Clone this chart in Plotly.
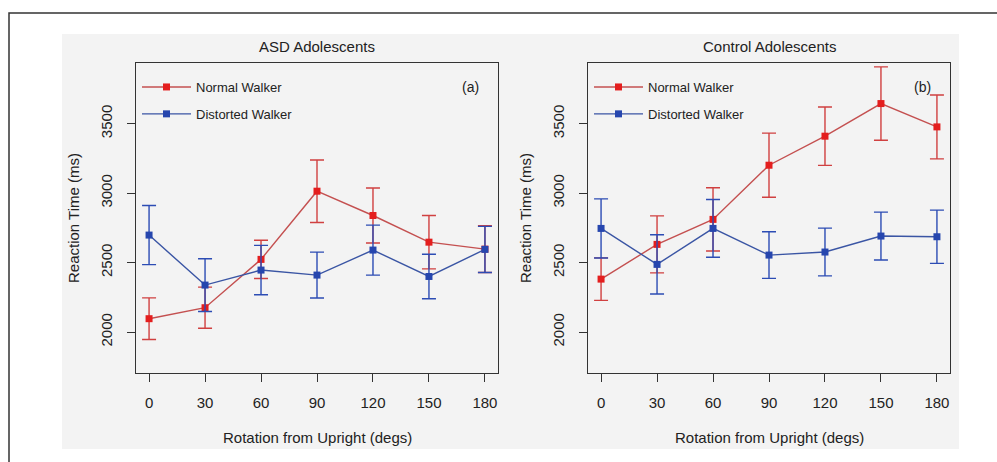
import plotly.graph_objects as go

angles = [0, 30, 60, 90, 120, 150, 180]

asd_normal = [2096, 2175, 2523, 3014, 2839, 2647, 2597]
asd_normal_err = [150, 148, 138, 225, 198, 192, 168]
asd_distorted = [2698, 2338, 2446, 2410, 2590, 2400, 2595]
asd_distorted_err = [213, 190, 178, 165, 180, 160, 166]

ctl_normal = [2381, 2631, 2811, 3201, 3410, 3645, 3477]
ctl_normal_err = [153, 205, 228, 231, 210, 264, 230]
ctl_distorted = [2746, 2487, 2746, 2554, 2576, 2691, 2686]
ctl_distorted_err = [213, 213, 208, 168, 172, 172, 192]

series_names = ["Normal Walker", "Distorted Walker"]
panel_titles = ["ASD Adolescents", "Control Adolescents"]
panel_tags = ["(a)", "(b)"]
x_ticks = [0, 30, 60, 90, 120, 150, 180]
y_ticks = [2000, 2500, 3000, 3500]
x_title = "Rotation from Upright (degs)"
y_title = "Reaction Time (ms)"

RED_LINE = "#C45050"
RED_MARK = "#E41E1E"
RED_ERR = "#D04040"
BLUE_LINE = "#3A55A4"
BLUE_MARK = "#2646AE"
BLUE_ERR = "#2C4CB4"
FONT = "Liberation Sans, Arial, sans-serif"
TXT = "#222222"
BG = "#F3F3F3"

W, H = 997, 462
def px(x):
    return x / W
def py(y):
    return 1 - y / H

fig = go.Figure()

panels = [
    (asd_normal, asd_normal_err, asd_distorted, asd_distorted_err, "x", "y", "legend"),
    (ctl_normal, ctl_normal_err, ctl_distorted, ctl_distorted_err, "x2", "y2", "legend2"),
]
for i, (nv, ne, dv, de, xa, ya, lg) in enumerate(panels):
    for name, vals, errs, lc, mc, ec, grp in [
        (series_names[0], nv, ne, RED_LINE, RED_MARK, RED_ERR, "n"),
        (series_names[1], dv, de, BLUE_LINE, BLUE_MARK, BLUE_ERR, "d"),
    ]:
        fig.add_trace(go.Scatter(
            x=angles, y=vals, name=name, mode="lines+markers",
            line=dict(color=lc, width=1.4),
            marker=dict(symbol="square", size=7, color=mc),
            error_y=dict(type="data", array=errs, visible=True,
                         color=ec, thickness=1.4, width=7),
            xaxis=xa, yaxis=ya, legend=lg, legendgroup=grp + str(i),
        ))

xdom = [[px(136), px(498)], [px(588), px(950)]]
ydom = [py(373), py(63)]

axis_common = dict(
    showgrid=False, zeroline=False, showline=True, mirror=True,
    linecolor="#333333", linewidth=1.3, ticks="outside", ticklen=8,
    tickwidth=1.3, tickcolor="#333333",
    tickfont=dict(family=FONT, size=15, color=TXT),
)
layout = dict(
    width=W, height=H, margin=dict(l=0, r=0, t=0, b=0),
    paper_bgcolor="white", plot_bgcolor=BG,
    font=dict(family=FONT, color=TXT),
    showlegend=True,
)
for i in range(2):
    sfx = "" if i == 0 else "2"
    layout["xaxis" + sfx] = dict(axis_common, domain=xdom[i], range=[-7, 187],
                                 tickvals=x_ticks, anchor="y" + sfx,
                                 ticklabelstandoff=8)
    layout["yaxis" + sfx] = dict(axis_common, domain=ydom, range=[1705, 3937],
                                 tickvals=y_ticks, anchor="x" + sfx,
                                 tickangle=-90, ticklabelstandoff=9)
    leg = dict(x=px(137 if i == 0 else 589), y=py(72), xanchor="left", yanchor="top",
               bgcolor="rgba(0,0,0,0)", borderwidth=0, tracegroupgap=7,
               itemwidth=49, font=dict(family=FONT, size=13, color=TXT))
    layout["legend" if i == 0 else "legend2"] = leg
fig.update_layout(**layout)

shapes = [
    dict(type="rect", xref="paper", yref="paper", x0=px(62), x1=px(959),
         y0=py(449), y1=py(34), fillcolor=BG, line=dict(width=0), layer="below"),
    dict(type="path", xref="paper", yref="paper",
         path=f"M {px(9)} 0 L {px(9)} {py(13)} L 1 {py(13)}",
         line=dict(color="#333333", width=1.5), layer="below"),
]
fig.update_layout(shapes=shapes)

ann = []
centers = [(136 + 498) / 2, (588 + 950) / 2]
ytitle_x = [73, 525]
common_ann = dict(xref="paper", yref="paper", showarrow=False,
                  xanchor="center", yanchor="middle")
for i in range(2):
    ann.append(dict(common_ann, text=panel_titles[i], x=px(centers[i]), y=py(47),
                    font=dict(family=FONT, size=15, color=TXT)))
    ann.append(dict(common_ann, text=x_title, x=px(centers[i]), y=py(437),
                    font=dict(family=FONT, size=15, color=TXT)))
    ann.append(dict(common_ann, text=y_title, x=px(ytitle_x[i]), y=py(218),
                    textangle=-90, font=dict(family=FONT, size=15, color=TXT)))
    ann.append(dict(common_ann, text=panel_tags[i], x=px(470 if i == 0 else 922),
                    y=py(87), font=dict(family=FONT, size=14, color=TXT)))
fig.update_layout(annotations=ann)

fig.write_html("out.html")
